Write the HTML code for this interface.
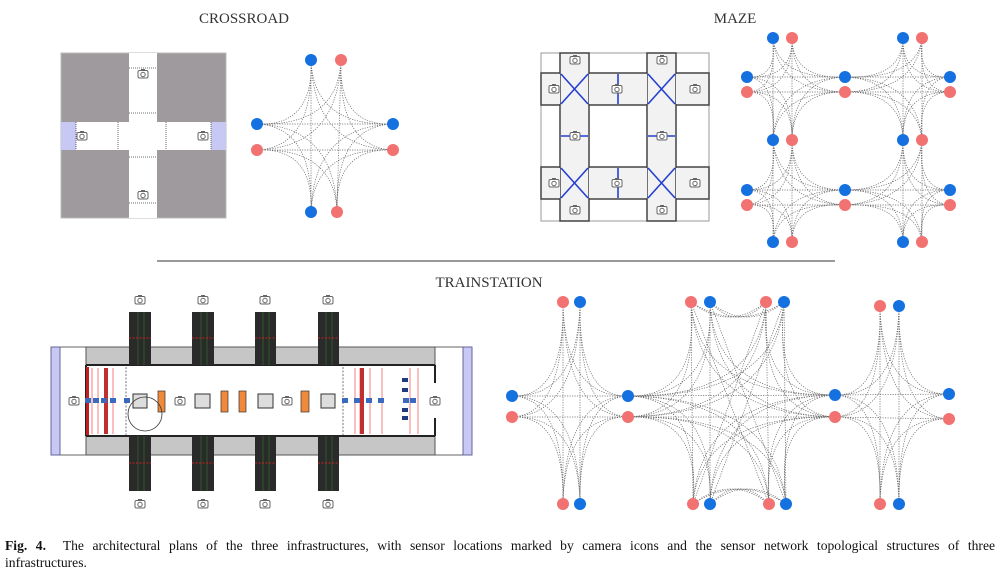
<!DOCTYPE html>
<html><head><meta charset="utf-8"><style>
body{margin:0;background:#fff;width:998px;height:576px;overflow:hidden;font-family:"Liberation Serif",serif}
svg{position:absolute;left:0;top:0}
.cap{position:absolute;left:5px;width:990px;top:537px;font-size:13.6px;line-height:17px;color:#111}
.l1{text-align:justify;text-align-last:justify;white-space:nowrap;overflow:hidden}
</style></head><body>
<svg id="s" width="998" height="576" xmlns="http://www.w3.org/2000/svg">
<defs>
<g id="cam"><rect x="-5" y="-3.5" width="10" height="7.5" rx="1.5" fill="#fff" stroke="#666" stroke-width="1"/><rect x="-2" y="-5" width="4" height="2" fill="#666"/><circle cx="0" cy="0.5" r="2.2" fill="none" stroke="#666" stroke-width="1"/></g>
</defs>
<g font-family="Liberation Serif, serif" font-size="15" fill="#333" text-anchor="middle">
<text x="244" y="23">CROSSROAD</text><text x="735" y="23">MAZE</text><text x="489" y="287">TRAINSTATION</text></g>
<line x1="157" y1="261" x2="835" y2="261" stroke="#333" stroke-width="1"/>
<rect x="61" y="53" width="165" height="165" fill="#9e9a9d" stroke="#bbb"/>
<rect x="129" y="53" width="28" height="165" fill="#fff"/>
<rect x="61" y="122" width="165" height="28" fill="#fff"/>
<rect x="61" y="122" width="15" height="28" fill="#c8c8f5"/><rect x="211" y="122" width="15" height="28" fill="#c8c8f5"/>
<g stroke="#444" stroke-width="0.8" stroke-dasharray="1 1"><line x1="129" y1="68" x2="157" y2="68"/><line x1="129" y1="113" x2="157" y2="113"/><line x1="129" y1="157" x2="157" y2="157"/><line x1="129" y1="203" x2="157" y2="203"/><line x1="118" y1="122" x2="118" y2="150"/><line x1="166" y1="122" x2="166" y2="150"/><line x1="76" y1="122" x2="76" y2="150"/><line x1="211" y1="122" x2="211" y2="150"/></g>
<use href="#cam" x="143" y="74"/><use href="#cam" x="143" y="195"/><use href="#cam" x="82" y="136"/><use href="#cam" x="203" y="136"/>
<rect x="541" y="53" width="168" height="168" fill="#fff" stroke="#999" stroke-width="1"/>
<g fill="#f2f2f2" stroke="#444" stroke-width="1.5">
<rect x="541" y="73" width="168" height="32"/><rect x="541" y="167" width="168" height="32"/>
<rect x="560" y="53" width="29" height="168"/><rect x="647" y="53" width="29" height="168"/></g>
<g fill="#f2f2f2"><rect x="561" y="74" width="27" height="30"/><rect x="648" y="74" width="27" height="30"/><rect x="561" y="168" width="27" height="30"/><rect x="648" y="168" width="27" height="30"/><rect x="542" y="74" width="18" height="30"/><rect x="589" y="74" width="58" height="30"/><rect x="676" y="74" width="32" height="30"/><rect x="542" y="168" width="18" height="30"/><rect x="589" y="168" width="58" height="30"/><rect x="676" y="168" width="32" height="30"/><rect x="561" y="105" width="27" height="62"/><rect x="648" y="105" width="27" height="62"/></g>
<g stroke="#2540d0" stroke-width="1.6">
<path d="M561 74L588 104M588 74L561 104M648 74L675 104M675 74L648 104M561 168L588 198M588 168L561 198M648 168L675 198M675 168L648 198"/>
<path d="M618 74V104M618 168V198M561 136H570M579 136H588M648 136H657M666 136H675"/></g>
<use href="#cam" x="575" y="60"/><use href="#cam" x="662" y="60"/><use href="#cam" x="554" y="89"/><use href="#cam" x="617" y="89"/><use href="#cam" x="695" y="89"/><use href="#cam" x="575" y="136"/><use href="#cam" x="662" y="136"/><use href="#cam" x="554" y="183"/><use href="#cam" x="617" y="183"/><use href="#cam" x="695" y="183"/><use href="#cam" x="575" y="210"/><use href="#cam" x="662" y="210"/>
<rect x="51" y="347" width="421" height="108" fill="#fff" stroke="#666"/>
<rect x="51" y="347" width="9" height="108" fill="#c8c8f5" stroke="#669"/><rect x="463" y="347" width="9" height="108" fill="#c8c8f5" stroke="#669"/>
<rect x="86" y="347" width="349" height="18" fill="#c6c6c6" stroke="#555"/><rect x="86" y="436" width="349" height="19" fill="#c6c6c6" stroke="#555"/>
<line x1="86" y1="365" x2="435" y2="365" stroke="#222" stroke-width="2"/><line x1="86" y1="436" x2="435" y2="436" stroke="#222" stroke-width="2"/>
<path d="M86 365V436M435 365V383M435 418V436" stroke="#222" stroke-width="2"/>
<g fill="#2a2a2a"><rect x="129" y="312" width="22" height="53"/><rect x="192" y="312" width="22" height="53"/><rect x="255" y="312" width="21" height="53"/><rect x="318" y="312" width="21" height="53"/><rect x="129" y="436" width="22" height="55"/><rect x="192" y="436" width="22" height="55"/><rect x="255" y="436" width="21" height="55"/><rect x="318" y="436" width="21" height="55"/></g>
<g stroke="#2a7a2a" stroke-width="0.6"><path d="M138 312V365M144 312V365M201 312V365M207 312V365M263 312V365M269 312V365M326 312V365M332 312V365M138 436V491M144 436V491M201 436V491M207 436V491M263 436V491M269 436V491M326 436V491M332 436V491"/></g>
<g stroke="#d02020" stroke-width="1" stroke-dasharray="2 1.5"><path d="M129 338H151M192 338H214M255 338H276M318 338H339M129 463H151M192 463H214M255 463H276M318 463H339"/></g>
<g stroke="#f06060" stroke-width="0.8"><path d="M92 368V434M98 368V434M105 368V434M113 368V434M355 368V434M360 368V434M370 368V434M382 368V434M410 368V434M418 368V434"/></g>
<rect x="86" y="367" width="3" height="68" fill="#c02020"/><rect x="104" y="368" width="4" height="66" fill="#c03030"/><rect x="360" y="368" width="4" height="66" fill="#c03030"/>
<g stroke="#555" stroke-width="0.8" stroke-dasharray="2 1.5"><path d="M126 367V435M343 367V435"/></g>
<g fill="#ddd" stroke="#333"><rect x="133" y="394" width="14" height="14"/><rect x="195" y="394" width="15" height="14"/><rect x="258" y="394" width="15" height="14"/><rect x="321" y="394" width="14" height="14"/></g>
<g fill="#f08a3a" stroke="#333" stroke-width="0.7"><rect x="158" y="391" width="7" height="21"/><rect x="221" y="391" width="7" height="21"/><rect x="239" y="391" width="7" height="21"/><rect x="301" y="391" width="8" height="21"/></g>
<circle cx="145" cy="414" r="17" fill="none" stroke="#333" stroke-width="0.8"/>
<g fill="#3a6ac0"><rect x="85" y="398" width="6" height="5"/><rect x="93" y="398" width="6" height="5"/><rect x="101" y="398" width="6" height="5"/><rect x="110" y="398" width="6" height="5"/><rect x="124" y="398" width="6" height="5"/><rect x="342" y="398" width="6" height="5"/><rect x="354" y="398" width="6" height="5"/><rect x="366" y="398" width="6" height="5"/><rect x="378" y="398" width="6" height="5"/><rect x="403" y="398" width="6" height="5"/><rect x="410" y="398" width="6" height="5"/></g>
<g fill="#223a80"><rect x="402" y="378" width="6" height="4"/><rect x="402" y="388" width="6" height="4"/><rect x="402" y="408" width="6" height="4"/><rect x="402" y="416" width="6" height="4"/></g>
<use href="#cam" x="74" y="401"/><use href="#cam" x="180" y="401"/><use href="#cam" x="287" y="401"/><use href="#cam" x="435" y="401"/>
<use href="#cam" x="140" y="300"/><use href="#cam" x="203" y="300"/><use href="#cam" x="265" y="300"/><use href="#cam" x="328" y="300"/>
<use href="#cam" x="140" y="504"/><use href="#cam" x="203" y="504"/><use href="#cam" x="265" y="504"/><use href="#cam" x="328" y="504"/>
<g id="graphs"></g>
</svg>
<div class="cap"><div class="l1"><b>Fig. 4.</b>&nbsp; The architectural plans of the three infrastructures, with sensor locations marked by camera icons and the sensor network topological structures of three</div><div>infrastructures.</div></div>
<script>
var B="#1570e0",R="#f27272",g=document.getElementById("graphs"),ns="http://www.w3.org/2000/svg",E=[],N=[];
function isV(a){return a[0]=="t"||a[0]=="b";}
function cl(c,arms){
 var names=Object.keys(arms),opp={t:"b",b:"t",l:"r",r:"l"};
 for(var i=0;i<names.length;i++)for(var j=i+1;j<names.length;j++){
  var a=names[i],b=names[j];
  arms[a].forEach(function(p,pi){arms[b].forEach(function(q,qi){
   var d;
   if(opp[a[0]]==b[0]){ if(pi!=qi)return; d="M"+p[0]+" "+p[1]+"L"+q[0]+" "+q[1];}
   else if(a[0]==b[0]){var my=(p[1]+q[1])/2+(a[0]=="t"?30:-30);d="M"+p[0]+" "+p[1]+"Q"+(p[0]+q[0])/2+" "+my+" "+q[0]+" "+q[1];}
   else{var v=isV(a)?p:q,h=isV(a)?q:p;var kx=v[0]*0.8+c[0]*0.2,ky=h[1]*0.8+c[1]*0.2;
    d="M"+p[0]+" "+p[1]+"Q"+kx+" "+ky+" "+q[0]+" "+q[1];}
   E.push(d);});});}
 names.forEach(function(n){arms[n].forEach(function(p){N.push(p)})});
}
cl([325,137],{t:[[311,60,B],[341,60,R]],l:[[257,124,B],[257,150,R]],r:[[393,124,B],[393,150,R]],b:[[311,212,B],[337,212,R]]});
var mx=[[773,792,747,845],[903,922,845,950]];
[[38,77,92,140],[140,190,205,242]].forEach(function(r){mx.forEach(function(m){
 cl([(m[2]+m[3])/2,(r[0]+r[3])/2],{t:[[m[0],r[0],B],[m[1],r[0],R]],l:[[m[2],r[1],B],[m[2],r[2],R]],r:[[m[3],r[1],B],[m[3],r[2],R]],b:[[m[0],r[3],B],[m[1],r[3],R]]});});});
cl([571,405],{t:[[563,302,R],[580,302,B]],l:[[512,396,B],[512,417,R]],r:[[628,396,B],[628,417,R]],b:[[563,504,R],[580,504,B]]});
cl([732,405],{t1:[[691,302,R],[710,302,B]],t2:[[766,302,R],[784,302,B]],l:[[628,396,B],[628,417,R]],r:[[835,395,B],[835,417,R]],b1:[[693,504,R],[710,504,B]],b2:[[769,504,R],[786,504,B]]});
cl([890,405],{t:[[880,306,R],[899,306,B]],l:[[835,395,B],[835,417,R]],r:[[949,394,B],[949,419,R]],b:[[880,504,R],[899,504,B]]});
E.forEach(function(d){var p=document.createElementNS(ns,"path");p.setAttribute("d",d);p.setAttribute("fill","none");p.setAttribute("stroke","#666");p.setAttribute("stroke-width","0.7");p.setAttribute("stroke-dasharray","1.2 1.3");g.appendChild(p);});
var seen={};N.forEach(function(p){var k=p[0]+","+p[1];if(seen[k])return;seen[k]=1;var c=document.createElementNS(ns,"circle");c.setAttribute("cx",p[0]);c.setAttribute("cy",p[1]);c.setAttribute("r",6);c.setAttribute("fill",p[2]);g.appendChild(c);});
</script>
</body></html>
